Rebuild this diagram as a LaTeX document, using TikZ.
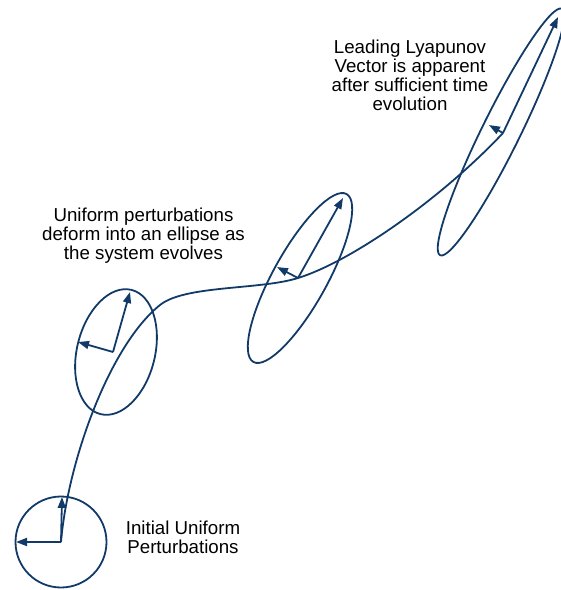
\documentclass[tikz,border=0pt]{standalone}
\usepackage{fontspec}
\setmainfont{Liberation Sans}
\usetikzlibrary{arrows.meta, shapes.geometric}
\definecolor{navy}{RGB}{18,58,104}

\begin{document}
\begin{tikzpicture}[x=1pt, y=-1pt, line width=1.8pt,
    blob/.style={draw=navy, ellipse, inner sep=0pt},
    vec/.style={draw=navy, -{Triangle[length=11pt, width=8pt]}},
    note/.style={align=center, inner sep=0pt, font=\fontsize{18.7}{19}\selectfont}]
  \useasboundingbox (0,0) rectangle (561,590);
  \clip (0,0) rectangle (561,590);
  % centres of the perturbation sets
  \coordinate (o1) at (61,542);
  \coordinate (o2) at (113,352);
  \coordinate (o3) at (298,278);
  \coordinate (o4) at (503,133);
  % vector tips
  \coordinate (a1) at (16,542);  \coordinate (b1) at (62,497);
  \coordinate (a2) at (78,342);  \coordinate (b2) at (130,292);
  \coordinate (a3) at (277,267); \coordinate (b3) at (343,198);
  \coordinate (a4) at (489,125); \coordinate (b4) at (558,17);

  \node[blob, minimum width=91pt, minimum height=91pt] (e1) at (o1) {};
  \node[blob, minimum width=128pt, minimum height=78pt, rotate=76] (e2) at (116,352) {};
  \node[blob, minimum width=192pt, minimum height=54pt, rotate=61] (e3) at (300,278) {};
  \node[blob, minimum width=275pt, minimum height=38pt, rotate=63.7] (e4) at (501,132) {};

  % trajectory
  \draw[navy] (o1) .. controls (68,460) and (110,345) .. (160,305)
    .. controls (185,285) and (260,290) .. (o3)
    .. controls (350,262) and (440,200) .. (o4);

  \path
    (o1) edge[vec] (a1) edge[vec] (b1)
    (o2) edge[vec] (a2) edge[vec] (b2)
    (o3) edge[vec] (a3) edge[vec] (b3)
    (o4) edge[vec] (a4) edge[vec] (b4);

  \node[note] (init) at (183,537) {Initial Uniform\\Perturbations};
  \node[note] (deform) at (143.5,236) {Uniform perturbations\\deform into an ellipse as\\the system evolves};
  \node[note] (lead) at (410,75) {Leading Lyapunov\\Vector is apparent\\after sufficient time\\evolution};
\end{tikzpicture}
\end{document}
